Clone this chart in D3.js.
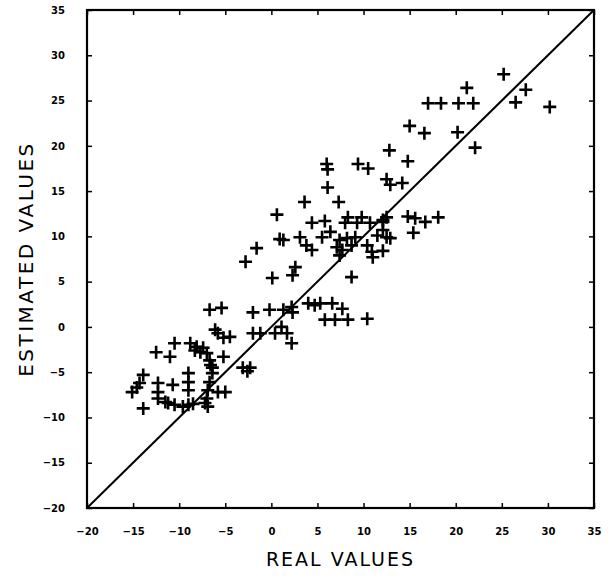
<!DOCTYPE html>
<html>
<head>
<meta charset="utf-8">
<script src="https://cdn.jsdelivr.net/npm/d3@7"></script>
<style>
  html, body { margin: 0; padding: 0; background: #fff; }
  svg { display: block; }
  .tick text { font-family: "DejaVu Sans", sans-serif; font-weight: bold; font-size: 10px; fill: #000; }
</style>
</head>
<body>
<div id="chart"></div>
<script>
// ---- data ----
const realValues = [
  25.2, 21.2, 27.6, 26.5, 30.2, 17.0, 18.4, 20.3, 21.9, 15.0,
  16.6, 20.2, 22.1, 12.8, 9.4, 10.5, 14.8, 12.5, 12.9, 14.2,
  6.0, 6.1, 6.1, 3.6, 7.3, 0.6, 14.8, 4.4, 5.8, 8.3,
  9.8, 8.0, 9.3, 10.7, 12.1, 0.9, 1.3, 3.1, 3.8, 4.4,
  5.5, 6.4, 7.4, 8.2, 9.1, 8.7, 7.7, 7.1, 11.5, 12.5,
  10.4, 10.9, 11.0, 7.4, 2.6, 2.3, 8.7, 0.1, 18.1, 15.6,
  16.7, 15.4, 12.9, 12.5, 12.1, 12.1, 12.1, -1.6, -2.8, -2.0,
  -0.2, 1.3, 2.2, 4.0, 5.3, 6.6, 7.7, 5.8, 6.9, 8.3,
  10.4, 2.3, 4.7, -2.0, -1.2, 0.4, 1.7, 2.2, 1.1, -6.7,
  -5.4, -6.1, -5.8, -4.5, -5.2, -8.1, -7.4, -7.0, -5.2, -6.7,
  -6.4, -3.1, -2.3, -2.6, -10.5, -12.5, -11.0, -8.8, -8.3, -7.7,
  -6.6, -6.4, -6.7, -6.9, -7.0, -5.8, -5.0, -6.9, -13.9, -14.3,
  -14.6, -15.1, -12.3, -12.3, -12.3, -11.5, -10.7, -9.0, -9.0, -9.0,
  -11.2, -10.5, -9.6, -9.0, -13.9, -7.2, -8.5
];
const estimatedValues = [
  27.9, 26.4, 26.2, 24.8, 24.3, 24.7, 24.7, 24.7, 24.7, 22.2,
  21.4, 21.5, 19.8, 19.5, 18.0, 17.5, 18.3, 16.3, 15.7, 15.9,
  18.0, 17.4, 15.4, 13.8, 13.8, 12.4, 12.2, 11.5, 11.7, 12.1,
  12.1, 11.5, 11.5, 11.5, 11.6, 9.7, 9.6, 9.9, 9.0, 8.5,
  9.9, 10.5, 9.6, 9.8, 9.9, 9.0, 8.5, 8.8, 10.1, 9.9,
  9.0, 8.3, 7.7, 7.9, 6.6, 5.7, 5.5, 5.4, 12.1, 12.0,
  11.6, 10.4, 9.8, 12.1, 11.8, 10.7, 8.4, 8.7, 7.2, 1.6,
  1.9, 1.9, 2.2, 2.6, 2.6, 2.6, 2.0, 0.8, 0.8, 0.8,
  0.9, 1.6, 2.4, -0.7, -0.7, -0.7, -0.7, -1.8, 0.0, 1.9,
  2.1, -0.3, -0.7, -1.1, -1.2, -2.2, -2.3, -2.9, -3.3, -3.7,
  -4.5, -4.5, -4.5, -4.9, -1.8, -2.8, -3.3, -1.8, -2.6, -2.8,
  -4.2, -5.1, -6.1, -7.0, -7.9, -7.2, -7.2, -8.8, -5.3, -6.2,
  -6.7, -7.2, -6.2, -7.2, -7.9, -8.3, -6.4, -5.1, -6.1, -7.0,
  -8.4, -8.6, -8.8, -8.6, -9.0, -8.4, -8.5
];
const xTicks = [-20, -15, -10, -5, 0, 5, 10, 15, 20, 25, 30, 35];
const yTicks = [-20, -15, -10, -5, 0, 5, 10, 15, 20, 25, 30, 35];
const axisDomain = [-20, 35];
const xTitle = "REAL VALUES";
const yTitle = "ESTIMATED VALUES";

// ---- layout ----
const W = 608, H = 577;
const mLeft = 87, mRight = 594, mTop = 10, mBottom = 508;

const svg = d3.select("#chart").append("svg")
  .attr("width", W).attr("height", H);

const x = d3.scaleLinear().domain(axisDomain).range([mLeft, mRight]);
const y = d3.scaleLinear().domain(axisDomain).range([mBottom, mTop]);

// frame
svg.append("rect")
  .attr("x", mLeft).attr("y", mTop)
  .attr("width", mRight - mLeft).attr("height", mBottom - mTop)
  .attr("fill", "none").attr("stroke", "#000").attr("stroke-width", 2.2);

// axes with inward ticks
const styleAxis = g => {
  g.select(".domain").remove();
  g.selectAll(".tick line").attr("stroke", "#000").attr("stroke-width", 1.5);
};
svg.append("g").attr("transform", `translate(0,${mBottom})`)
  .call(d3.axisBottom(x).tickValues(xTicks).tickSizeInner(-5).tickSizeOuter(0).tickPadding(20))
  .call(styleAxis);
svg.append("g").attr("transform", `translate(0,${mTop})`)
  .call(d3.axisTop(x).tickValues(xTicks).tickSizeInner(-5).tickSizeOuter(0).tickFormat(""))
  .call(styleAxis);
svg.append("g").attr("transform", `translate(${mLeft},0)`)
  .call(d3.axisLeft(y).tickValues(yTicks).tickSizeInner(-5).tickSizeOuter(0).tickPadding(22))
  .call(styleAxis);
svg.append("g").attr("transform", `translate(${mRight},0)`)
  .call(d3.axisRight(y).tickValues(yTicks).tickSizeInner(-5).tickSizeOuter(0).tickFormat(""))
  .call(styleAxis);

// 1:1 line
svg.append("line")
  .attr("x1", x(axisDomain[0])).attr("y1", y(axisDomain[0]))
  .attr("x2", x(axisDomain[1])).attr("y2", y(axisDomain[1]))
  .attr("stroke", "#000").attr("stroke-width", 2);

// plus markers
const pts = realValues.map((v, i) => ({ r: v, e: estimatedValues[i] }));
const arm = 6.5;
const mk = svg.append("g").attr("stroke", "#000").attr("stroke-width", 2.6).attr("fill", "none");
mk.selectAll("path").data(pts).join("path")
  .attr("d", d => {
    const cx = x(d.r), cy = y(d.e);
    return `M${cx - arm},${cy}H${cx + arm}M${cx},${cy - arm}V${cy + arm}`;
  });

// titles
svg.append("text")
  .attr("x", (mLeft + mRight) / 2).attr("y", 566)
  .attr("text-anchor", "middle")
  .attr("font-family", "DejaVu Sans, sans-serif").attr("font-size", 19)
  .attr("letter-spacing", 2)
  .text(xTitle);
svg.append("text")
  .attr("transform", `translate(33,${(mTop + mBottom) / 2}) rotate(-90)`)
  .attr("text-anchor", "middle")
  .attr("font-family", "DejaVu Sans, sans-serif").attr("font-size", 20)
  .attr("letter-spacing", 2.5)
  .text(yTitle);
</script>
</body>
</html>
